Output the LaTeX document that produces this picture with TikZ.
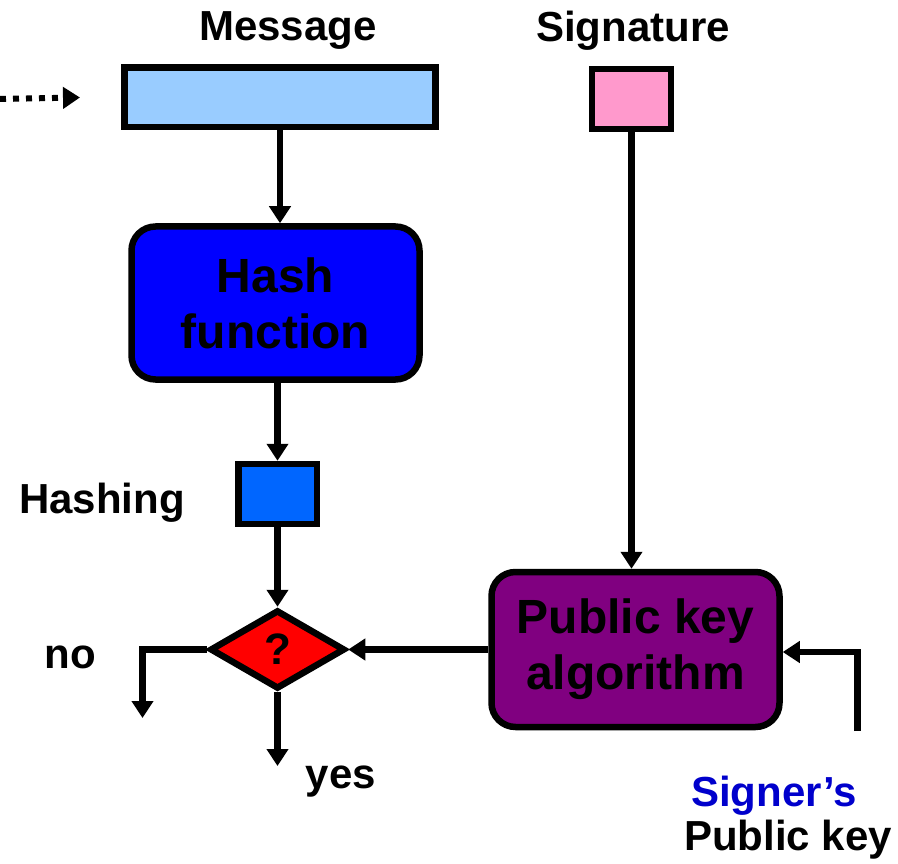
\documentclass[tikz,border=0pt]{standalone}
\usepackage{fontspec}
\setmainfont{Liberation Sans}
\usetikzlibrary{arrows.meta,shapes.geometric}
\definecolor{msgblue}{HTML}{99CCFF}
\definecolor{sigpink}{HTML}{FF99CC}
\definecolor{hashblue}{HTML}{0000FF}
\definecolor{hvblue}{HTML}{0066FF}
\definecolor{decred}{HTML}{FF0000}
\definecolor{pkapurple}{HTML}{800080}
\definecolor{signerblue}{HTML}{0000CC}
\tikzset{
  box/.style={draw=black, line width=6.5pt, inner sep=0pt},
  bigbox/.style={box, rounded corners=24pt, align=center,
    font=\fontsize{48}{56}\selectfont\bfseries},
  lbl/.style={inner sep=0pt, anchor=base, font=\fontsize{42}{48}\selectfont\bfseries},
  conn/.style={draw=black, line width=6.5pt,
    -{Triangle[length=17pt,width=21pt]}},
}
\begin{document}
\begin{tikzpicture}[x=1pt,y=-1pt]
\useasboundingbox (0,0) rectangle (898,864);
% boxes
\node[box, fill=msgblue, minimum width=311pt, minimum height=59.5pt] (msg) at (280,97.5) {};
\node[box, fill=sigpink, minimum width=79pt, minimum height=60pt] (sig) at (631.5,99) {};
\node[bigbox, fill=hashblue, minimum width=288pt, minimum height=153pt] (hash) at (275.5,303) {Hash\\function};
\node[box, fill=hvblue, minimum width=78.5pt, minimum height=60pt] (hashv) at (277.5,494) {};
\node[draw=black, line width=6.5pt, fill=decred, shape=diamond, inner sep=0pt,
  minimum width=135pt, minimum height=79pt,
  font=\fontsize{44}{48}\selectfont\bfseries] (dec) at (277.5,649.5) {?};
\node[bigbox, fill=pkapurple, minimum width=288pt, minimum height=155pt] (pka) at (635.5,649.5) {Public key\\algorithm};
% labels
\node[lbl] (lmsg) at (288,41) {Message};
\node[lbl] (lsig) at (633,42) {Signature};
\node[lbl] (lhv) at (102,513) {Hashing};
\node[lbl] (lno) at (70,668) {no};
\node[lbl] (lyes) at (341,788) {yes};
\node[lbl, text=signerblue] (lsigner) at (774,806) {Signer’s};
\node[lbl] (lpub) at (788,850) {Public key};
% coordinates
\coordinate (dotstart) at (0,99);
\coordinate (noend) at (142.5,718);
\coordinate (yesend) at (277.5,766);
\coordinate (pkin) at (857.5,731);
\coordinate (pkcorner) at (857.5,652);
% connectors
\draw[conn, dash pattern=on 6pt off 7pt, line width=6pt] (dotstart) -- (msg.west -| 80,0);
\draw[conn] (msg.south) -- (msg.south |- hash.north);
\draw[conn] (hashv.north |- hash.south) -- (hashv.north);
\draw[conn] (hashv.south) -- (dec.north);
\draw[conn] (dec.south) -- (yesend);
\draw[conn] (dec.west) -| (noend);
\draw[conn] (sig.south) -- (sig.south |- pka.north);
\draw[conn] (pka.west) -- (dec.east);
\draw[conn] (pkin) -- (pkcorner) -- (pkcorner -| pka.east);
\end{tikzpicture}
\end{document}
